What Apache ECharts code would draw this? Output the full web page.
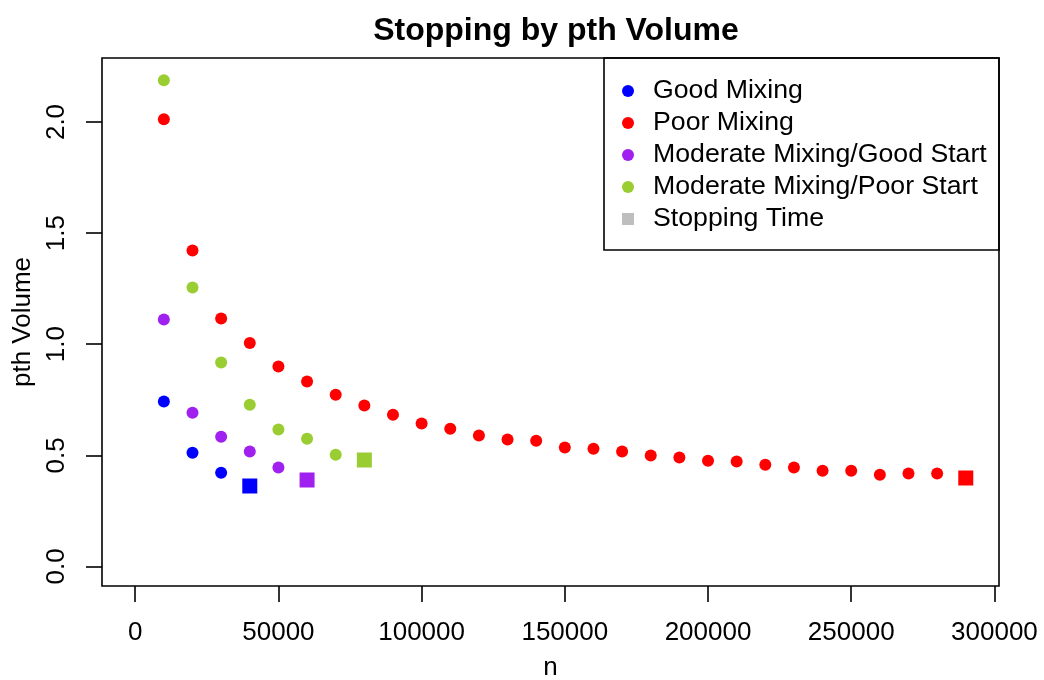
<!DOCTYPE html>
<html>
<head>
<meta charset="utf-8">
<script src="https://cdn.jsdelivr.net/npm/echarts@6/dist/echarts.min.js"></script>
<style>
  html, body { margin: 0; padding: 0; background: #fff; }
  #chart { width: 1044px; height: 680px; }
</style>
</head>
<body>
<div id="chart"></div>
<script>
// Sample sizes n at which the pth volume was evaluated
const nGoodMixing = [10000, 20000, 30000];
const goodMixing = [0.742, 0.512, 0.422];

const nPoorMixing = [10000, 20000, 30000, 40000, 50000, 60000, 70000, 80000, 90000, 100000,
  110000, 120000, 130000, 140000, 150000, 160000, 170000, 180000, 190000, 200000,
  210000, 220000, 230000, 240000, 250000, 260000, 270000, 280000];
const poorMixing = [2.012, 1.422, 1.116, 1.005, 0.900, 0.832, 0.773, 0.724, 0.683, 0.643,
  0.620, 0.589, 0.571, 0.566, 0.535, 0.530, 0.517, 0.499, 0.490, 0.476,
  0.472, 0.458, 0.445, 0.431, 0.431, 0.413, 0.418, 0.418];

const nModGood = [10000, 20000, 30000, 40000, 50000];
const modGood = [1.111, 0.692, 0.584, 0.517, 0.445];

const nModPoor = [10000, 20000, 30000, 40000, 50000, 60000, 70000];
const modPoor = [2.188, 1.255, 0.918, 0.728, 0.616, 0.575, 0.503];

// Stopping time for each chain (same order as the colours below)
const stopN = [40000, 290000, 60000, 80000];
const stopVolume = [0.362, 0.398, 0.389, 0.479];

const seriesNames = ['Good Mixing', 'Poor Mixing', 'Moderate Mixing/Good Start', 'Moderate Mixing/Poor Start'];
const seriesColors = ['#0000FF', '#FF0000', '#A020F0', '#9ACD32'];
const stopColor = '#BEBEBE';

const xTicks = [0, 50000, 100000, 150000, 200000, 250000, 300000];
const yTicks = [0, 0.5, 1.0, 1.5, 2.0];

const FONT = '"Liberation Sans", Arial, Helvetica, sans-serif';

const pairs = (xs, ys) => xs.map((x, i) => [x, ys[i]]);

const chart = echarts.init(document.getElementById('chart'), null, { renderer: 'canvas' });

const circleSeries = [
  [nGoodMixing, goodMixing],
  [nPoorMixing, poorMixing],
  [nModGood, modGood],
  [nModPoor, modPoor]
].map(([xs, ys], i) => ({
  name: seriesNames[i],
  type: 'scatter',
  symbol: 'circle',
  symbolSize: 12,
  itemStyle: { color: seriesColors[i], opacity: 1 },
  emphasis: { disabled: true },
  data: pairs(xs, ys)
}));

const stopSeries = {
  name: 'Stopping Time',
  type: 'scatter',
  symbol: 'rect',
  symbolSize: 15,
  itemStyle: { color: stopColor, opacity: 1 },
  emphasis: { disabled: true },
  data: stopN.map((x, i) => ({ value: [x, stopVolume[i]], itemStyle: { color: seriesColors[i] } }))
};

chart.setOption({
  animation: false,
  backgroundColor: '#ffffff',
  title: {
    text: 'Stopping by pth Volume',
    left: 551,
    top: 10,
    textAlign: 'center',
    textStyle: { fontFamily: FONT, fontSize: 32, fontWeight: 'bold', color: '#000' }
  },
  grid: {
    left: 102, right: 45, top: 58, bottom: 94,
    containLabel: false,
    outerBoundsMode: 'none',
    show: true,
    borderColor: '#000',
    borderWidth: 1.6,
    backgroundColor: 'transparent'
  },
  legend: {
    orient: 'vertical',
    left: 622,
    top: 75,
    padding: 0,
    itemGap: 0,
    itemWidth: 12,
    itemHeight: 12,
    data: [
      { name: seriesNames[0], icon: 'circle' },
      { name: seriesNames[1], icon: 'circle' },
      { name: seriesNames[2], icon: 'circle' },
      { name: seriesNames[3], icon: 'circle' },
      { name: 'Stopping Time', icon: 'rect' }
    ],
    selectedMode: false,
    textStyle: { fontFamily: FONT, fontSize: 26.7, color: '#000', lineHeight: 32, padding: [0, 0, 0, 14] }
  },
  graphic: [{
    type: 'rect',
    shape: { x: 604, y: 58, width: 395, height: 192 },
    style: { fill: 'transparent', stroke: '#000', lineWidth: 1.6 },
    z: 10
  }],
  xAxis: {
    type: 'value',
    min: -11600,
    max: 301600,
    name: 'n',
    nameLocation: 'middle',
    nameGap: 69,
    nameTextStyle: { fontFamily: FONT, fontSize: 26, color: '#000' },
    axisLine: { show: false, onZero: false },
    splitLine: { show: false },
    axisTick: { show: true, customValues: xTicks, length: 16, inside: false, lineStyle: { color: '#000', width: 1.6 } },
    axisLabel: { customValues: xTicks, margin: 34, fontFamily: FONT, fontSize: 26, color: '#000', formatter: v => String(v) }
  },
  yAxis: {
    type: 'value',
    min: -0.088,
    max: 2.288,
    name: 'pth Volume',
    nameLocation: 'middle',
    nameGap: 57,
    nameTextStyle: { fontFamily: FONT, fontSize: 26, color: '#000' },
    axisLine: { show: false, onZero: false },
    splitLine: { show: false },
    axisTick: { show: true, customValues: yTicks, length: 16, inside: false, lineStyle: { color: '#000', width: 1.6 } },
    axisLabel: { customValues: yTicks, rotate: 90, margin: 32, fontFamily: FONT, fontSize: 26, color: '#000', formatter: v => v.toFixed(1) }
  },
  series: [...circleSeries, stopSeries]
});
</script>
</body>
</html>
